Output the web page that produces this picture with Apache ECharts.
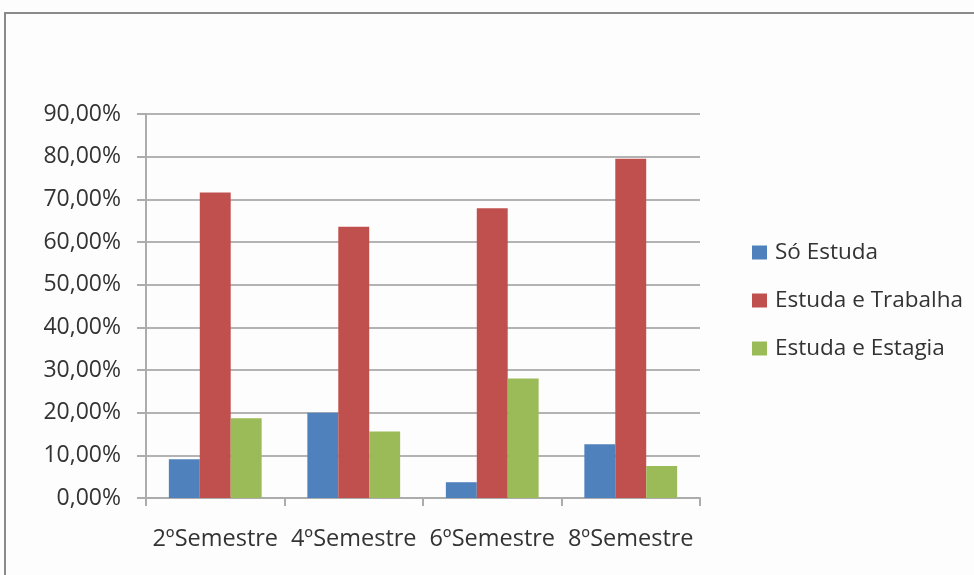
<!DOCTYPE html>
<html>
<head>
<meta charset="utf-8">
<script src="https://cdn.jsdelivr.net/npm/echarts@6/dist/echarts.min.js"></script>
<style>
  html, body { margin: 0; padding: 0; background: #fdfdfd; }
  #chart { width: 974px; height: 575px; }
</style>
</head>
<body>
<div id="chart"></div>
<script>
// Semesters on the category axis
const semesters = ['2ºSemestre', '4ºSemestre', '6ºSemestre', '8ºSemestre'];
// Share of students in each situation (percent)
const soEstuda = [9.1, 20.0, 3.7, 12.6];
const estudaTrabalha = [71.6, 63.6, 67.9, 79.5];
const estudaEstagia = [18.7, 15.6, 28.0, 7.5];
const seriesNames = ['Só Estuda', 'Estuda e Trabalha', 'Estuda e Estagia'];
const seriesColors = ['#4f81bd', '#c0504d', '#9bbb59'];

const FONT = '"Open Sans", sans-serif';
const TEXT_COLOR = '#333333';
const chart = echarts.init(document.getElementById('chart'));

const makeSeries = (name, data, color) => ({
  name: name,
  type: 'bar',
  data: data,
  barGap: '0%',
  barCategoryGap: '33%',
  itemStyle: { color: color },
  emphasis: { disabled: true }
});

chart.setOption({
  animation: false,
  backgroundColor: '#fdfdfd',
  graphic: [{
    type: 'rect',
    shape: { x: 5, y: 13, width: 990, height: 600 },
    style: { fill: 'none', stroke: '#8a8a8a', lineWidth: 2 },
    silent: true
  }],
  legend: {
    orient: 'vertical',
    left: 747,
    top: 236,
    itemWidth: 15,
    itemHeight: 14,
    itemGap: 25,
    icon: 'rect',
    textStyle: { fontFamily: FONT, fontSize: 22.5, color: TEXT_COLOR, padding: [0, 0, 0, 3] },
    data: seriesNames
  },
  grid: { left: 146, right: 274, top: 114, bottom: 77, containLabel: false },
  xAxis: {
    type: 'category',
    data: semesters,
    axisLine: { lineStyle: { color: '#acacac', width: 2 } },
    axisTick: { show: true, length: 8, lineStyle: { color: '#acacac', width: 2 } },
    axisLabel: { interval: 0, fontFamily: FONT, fontSize: 23.5, color: TEXT_COLOR, margin: 29 }
  },
  yAxis: {
    type: 'value',
    min: 0,
    max: 90,
    interval: 10,
    axisLine: { show: true, lineStyle: { color: '#acacac', width: 2 } },
    axisTick: { show: true, length: 9, lineStyle: { color: '#acacac', width: 2 } },
    splitLine: { lineStyle: { color: '#b3b3b3', width: 2 } },
    axisLabel: {
      fontFamily: FONT, fontSize: 23, color: TEXT_COLOR, margin: 25,
      formatter: v => v.toFixed(2).replace('.', ',') + '%'
    }
  },
  series: [
    makeSeries(seriesNames[0], soEstuda, seriesColors[0]),
    makeSeries(seriesNames[1], estudaTrabalha, seriesColors[1]),
    makeSeries(seriesNames[2], estudaEstagia, seriesColors[2])
  ]
});
</script>
</body>
</html>
